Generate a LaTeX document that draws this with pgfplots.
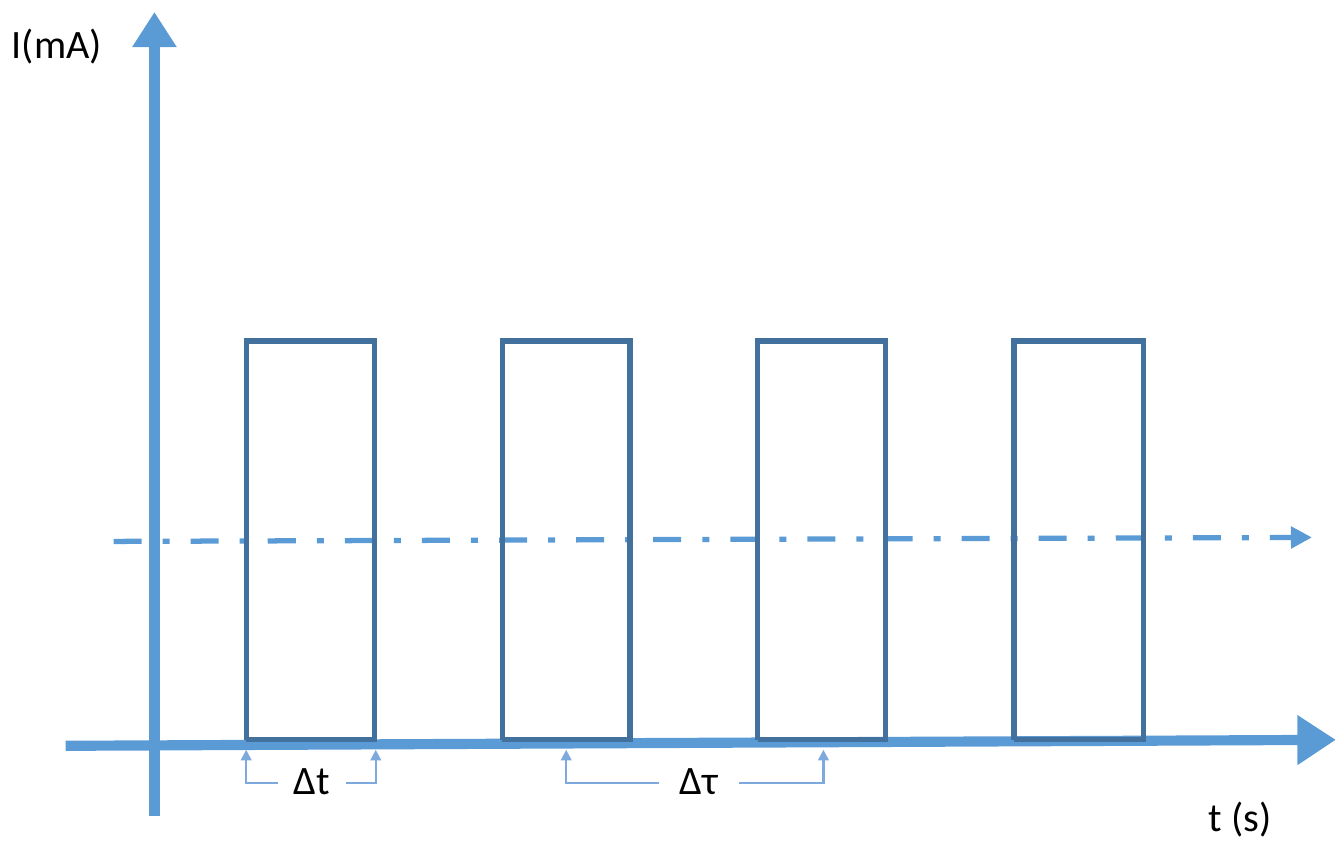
\documentclass[border=0pt]{standalone}
\usepackage{fontspec}
\setmainfont{Carlito}
\usepackage{pgfplots}
\pgfplotsset{compat=1.18}
\usetikzlibrary{arrows.meta}

\definecolor{axblue}{HTML}{5B9BD5}
\definecolor{pulse}{HTML}{41719C}
\definecolor{brk}{HTML}{7DA9DC}

\begin{document}
\begin{tikzpicture}
\begin{axis}[
    scale only axis,
    width=13.41cm, height=8.48cm,
    xmin=0, xmax=1341, ymin=0, ymax=848,
    y dir=reverse,
    hide axis,
    clip=false,
]
% frame of the picture
\addplot[draw=none] coordinates {(0,0) (1341,848)};

% axes as thick arrows
\addplot[axblue, line width=2.9pt, -{Triangle[length=10pt,width=12pt]}]
    coordinates {(151,818) (151,12)};
\addplot[axblue, line width=2.9pt, -{Triangle[length=11pt,width=13.5pt]}]
    coordinates {(62,748) (1336,742)};

% mean level (dash-dot)
\addplot[axblue, line width=1.5pt,
    dash pattern=on 8pt off 6pt on 2pt off 6pt,
    -{Triangle[length=6pt,width=6pt]}]
    coordinates {(110,543) (1312,539)};

% pulses
\addplot[pulse, line width=1.5pt] coordinates {(243,742) (243,342) (372,342) (372,742) (243,742)};
\addplot[pulse, line width=1.5pt] coordinates {(500,742) (500,342) (628,342) (628,742) (500,742)};
\addplot[pulse, line width=1.5pt] coordinates {(756,742) (756,342) (884,342) (884,742) (756,742)};
\addplot[pulse, line width=1.5pt] coordinates {(1013,742) (1013,342) (1143,342) (1143,742) (1013,742)};

% brackets
\addplot[brk, line width=0.6pt, -{Triangle[length=3pt,width=3pt]}]
    coordinates {(275,785) (243,785) (243,752)};
\addplot[brk, line width=0.6pt, -{Triangle[length=3pt,width=3pt]}]
    coordinates {(343,785) (373,785) (373,752)};
\addplot[brk, line width=0.6pt, -{Triangle[length=3pt,width=3pt]}]
    coordinates {(657,785) (564,785) (564,752)};
\addplot[brk, line width=0.6pt, -{Triangle[length=3pt,width=3pt]}]
    coordinates {(737,785) (822,785) (822,752)};

% labels
\node[font=\fontsize{11.5}{13}\selectfont] at (axis cs:309,784) {Δt};
\node[font=\fontsize{11.5}{13}\selectfont] at (axis cs:697,784) {Δτ};
\node[font=\fontsize{11.5}{13}\selectfont] at (axis cs:53,47) {I(mA)};
\node[font=\fontsize{11.5}{13}\selectfont] at (axis cs:1240,822) {t (s)};
\end{axis}
\end{tikzpicture}
\end{document}
